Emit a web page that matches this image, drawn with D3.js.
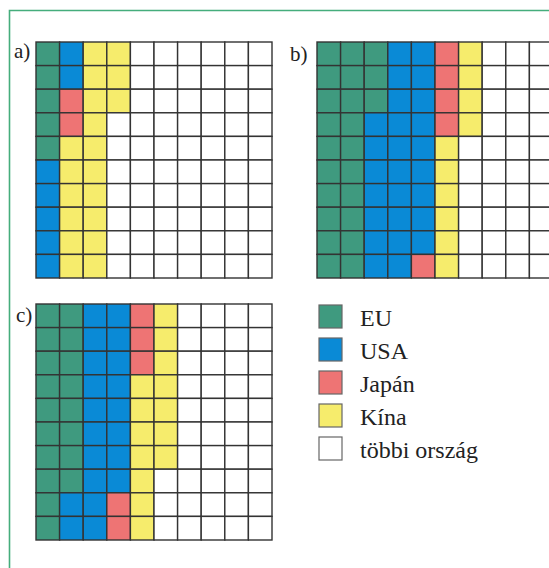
<!DOCTYPE html>
<html><head><meta charset="utf-8">
<script src="https://cdn.jsdelivr.net/npm/d3@7"></script>
<style>body{margin:0;background:#fff}svg{display:block}</style>
</head><body>
<script>
const categories = ["EU", "USA", "Japán", "Kína", "többi ország"];
const colors = ["#3f9a7f", "#0a8ad6", "#ee7474", "#f6ec6c", "#ffffff"];
const panelLabels = ["a)", "b)", "c)"];
const valuesA = [5, 7, 2, 19, 67];
const valuesB = [23, 26, 5, 10, 36];
const valuesC = [18, 20, 5, 14, 43];
const panels = [valuesA, valuesB, valuesC];

const W = 549, H = 568;
const svg = d3.select("body").append("svg").attr("width", W).attr("height", H);

// frame
svg.append("path").attr("d", `M9.5,${H} V10.5 H${W}`).attr("fill","none")
  .attr("stroke","#45ad7c").attr("stroke-width",1.6);

const size = 236;
const origins = [[36,42],[317,42],[36,304]];
const labelPos = [[14,58],[290,61],[16,322]];
const idx = d3.range(10);
const color = d3.scaleOrdinal().domain(categories).range(colors);

panels.forEach((vals, p) => {
  const [ox, oy] = origins[p];
  const x = d3.scaleBand().domain(idx).range([ox, ox+size]);
  const y = d3.scaleBand().domain(idx).range([oy, oy+size]);
  const cells = [];
  let k = 0;
  vals.forEach((v, c) => { for (let i=0;i<v;i++){ cells.push({col: Math.floor(k/10), row: k%10, cat: categories[c]}); k++; } });
  const g = svg.append("g");
  g.selectAll("rect").data(cells).join("rect")
    .attr("x", d => x(d.col)).attr("y", d => y(d.row))
    .attr("width", x.bandwidth()).attr("height", y.bandwidth())
    .attr("fill", d => color(d.cat))
    .attr("stroke", "#333").attr("stroke-width", 1.4);
  svg.append("text").attr("x", labelPos[p][0]).attr("y", labelPos[p][1])
    .attr("font-family","Liberation Serif, serif").attr("font-size",21).attr("fill","#222")
    .text(panelLabels[p]);
});

// legend
const lg = svg.append("g");
categories.forEach((c, i) => {
  const yy = 305 + i*33;
  lg.append("rect").attr("x", 319).attr("y", yy).attr("width", 23).attr("height", 23)
    .attr("fill", color(c)).attr("stroke", "#666").attr("stroke-width", 1.2);
  lg.append("text").attr("x", 360).attr("y", yy+21)
    .attr("font-family","Liberation Serif, serif").attr("font-size",24).attr("fill","#222")
    .text(c);
});
</script>
</body></html>
